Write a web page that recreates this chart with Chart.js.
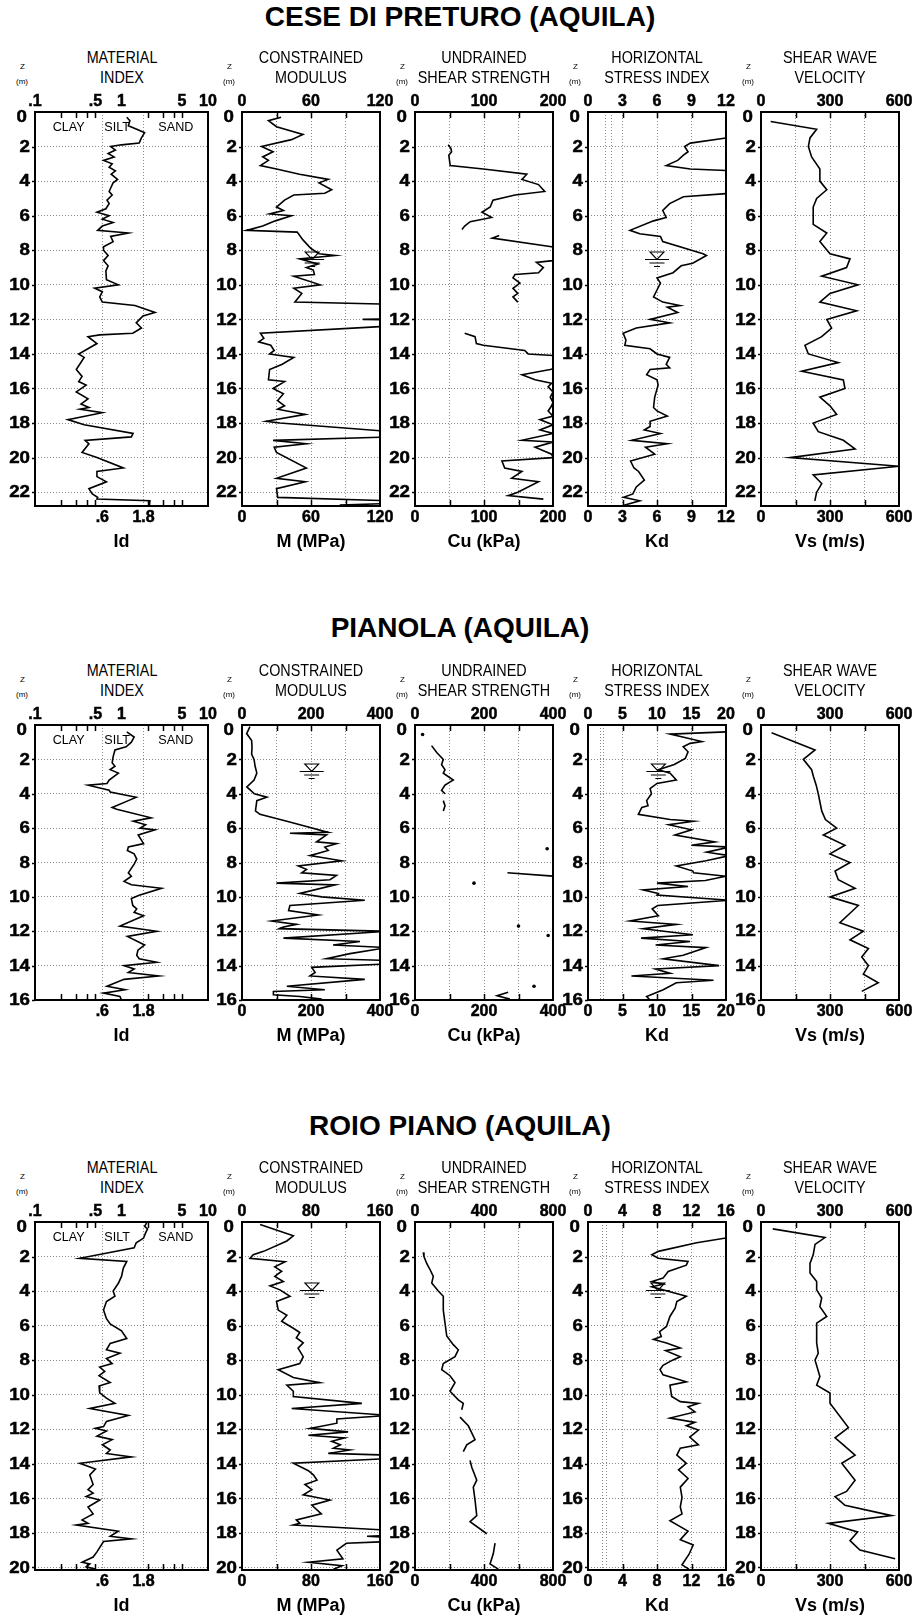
<!DOCTYPE html>
<html><head><meta charset="utf-8">
<script src="https://cdn.jsdelivr.net/npm/chart.js@4.4.1/dist/chart.umd.min.js"></script>
<style>
body{margin:0;background:#fff;width:917px;height:1620px;position:relative;overflow:hidden;font-family:'Liberation Sans',Arial,sans-serif;}
.t{position:absolute;white-space:nowrap;transform:translate(-50%,-50%);color:#000;line-height:1;}
.main{font-weight:bold;font-size:28px;}
.pt{font-size:16.5px;transform:translate(-50%,-50%) scaleX(0.87);}
.z{font-size:8px;}
canvas{position:absolute;}
</style></head><body>
<script>
// ---------------- DATA ----------------
const siteNames = ['CESE DI PRETURO (AQUILA)','PIANOLA (AQUILA)','ROIO PIANO (AQUILA)'];
const panelTitles = [['MATERIAL','INDEX'],['CONSTRAINED','MODULUS'],['UNDRAINED','SHEAR STRENGTH'],['HORIZONTAL','STRESS INDEX'],['SHEAR WAVE','VELOCITY']];
const axisTitles = ['Id','M (MPa)','Cu (kPa)','Kd','Vs (m/s)'];

const depthTicksCese = [0,2,4,6,8,10,12,14,16,18,20,22];
const depthTicksPianola = [0,2,4,6,8,10,12,14,16];
const depthTicksRoio = [0,2,4,6,8,10,12,14,16,18,20];

const idTopTicks = [0.1,0.5,1,5,10];
const idTopLabels = ['.1','.5','1','5','10'];
const idBottomTicks = [0.6,1.8];
const idBottomLabels = ['.6','1.8'];
const idMinorTicks = [0.2,0.3,0.4,0.5,2,3,4,5];
const soilLabels = ['CLAY','SILT','SAND'];
const soilLabelX = [0.245,0.89,4.25];

const mTicksCese = [0,30,60,90,120];      const mLabelsCese = ['0','','60','','120'];
const cuTicksCese = [0,50,100,150,200];   const cuLabelsCese = ['0','','100','','200'];
const kdTicksCese = [0,3,6,9,12];         const kdLabelsCese = ['0','3','6','9','12'];
const kdExtraCese = [1.5,2.0];
const mTicksPianola = [0,100,200,300,400];  const mLabelsPianola = ['0','','200','','400'];
const cuTicksPianola = [0,100,200,300,400]; const cuLabelsPianola = ['0','','200','','400'];
const kdTicksPianola = [0,5,10,15,20];      const kdLabelsPianola = ['0','5','10','15','20'];
const kdExtraPianola = [1.8,2.3];
const mTicksRoio = [0,40,80,120,160];     const mLabelsRoio = ['0','','80','','160'];
const cuTicksRoio = [0,200,400,600,800];  const cuLabelsRoio = ['0','','400','','800'];
const kdTicksRoio = [0,4,8,12,16];        const kdLabelsRoio = ['0','4','8','12','16'];
const kdExtraRoio = [1.7,2.2];
const vsTicks = [0,150,300,450,600];      const vsLabels = ['0','','300','','600'];

// water table: depth, x in M panel, x in Kd panel
const wtDepth = [8.5,2.67,3.93];
const wtM = [61,202,81];
const wtKd = [6,10.2,8.1];

// series: [depth (m), value]
const ceseId = [[0.3,1.15],[0.5,1.25],[0.8,1.2],[1.0,1.5],[1.2,1.85],[1.5,1.7],[1.8,1.6],[1.9,1.0],[2.0,0.75],[2.2,0.85],[2.4,0.7],[2.6,0.82],[2.8,0.62],[3.0,0.78],[3.2,0.72],[3.4,0.85],[3.6,0.76],[3.9,0.9],[4.1,0.8],[4.4,0.75],[4.6,0.72],[4.8,0.78],[5.1,0.68],[5.3,0.72],[5.6,0.66],[5.8,0.52],[6.0,0.72],[6.2,0.6],[6.4,0.8],[6.6,0.6],[6.85,0.53],[7.0,1.2],[7.2,0.75],[7.5,0.8],[7.8,0.62],[8.0,0.62],[8.3,0.7],[8.6,0.62],[8.9,0.7],[9.2,0.66],[9.7,0.67],[10.0,0.92],[10.2,0.49],[10.4,0.6],[10.7,0.56],[11.0,0.6],[11.2,1.43],[11.6,2.44],[11.8,1.77],[12.2,1.48],[12.5,1.7],[12.8,1.35],[12.9,0.56],[13.0,0.41],[13.4,0.52],[14.0,0.32],[14.2,0.37],[14.9,0.3],[15.3,0.35],[15.6,0.32],[15.8,0.39],[16.2,0.3],[16.6,0.41],[16.9,0.34],[17.1,0.42],[17.2,0.33],[17.4,0.6],[17.8,0.24],[18.1,0.37],[18.6,1.36],[18.8,1.3],[19.0,0.38],[19.2,0.42],[19.7,0.35],[20.0,0.52],[20.6,1.05],[20.8,0.52],[21.1,0.52],[21.4,0.67],[21.8,0.42],[22.1,0.46],[22.3,0.53],[22.4,0.52],[22.5,2.13],[22.8,2.1]];
const ceseM = [[0.3,34],[0.5,23],[0.85,30],[1.3,53],[1.6,43],[2.0,17],[2.3,27],[2.6,18],[2.8,23],[3.1,16],[3.3,30],[3.6,50],[3.9,75],[4.1,67],[4.5,78],[4.7,72],[4.8,45],[5.1,37],[5.5,30],[5.7,36],[5.9,24],[6.0,43],[6.3,29],[6.6,18],[6.85,4],[6.95,48],[7.4,53],[7.9,60],[8.2,67],[8.3,81],[8.5,50],[8.8,66],[9.0,56],[9.15,62],[9.4,63],[9.5,45],[10.0,68],[10.2,45],[10.5,52],[11.0,46],[11.15,150],[11.95,150],[12.0,105],[12.05,150],[12.4,125],[12.8,16],[13.1,19],[13.3,14.5],[13.5,25],[13.8,28],[14.0,24],[14.2,45],[14.6,35],[14.9,24],[15.5,23],[15.6,37],[16.0,27],[16.3,36],[16.7,31],[17.0,37],[17.2,31],[17.5,55],[17.9,21],[18.0,33],[18.5,130],[18.8,130],[19.0,27],[19.2,56],[19.4,28],[19.7,30],[20.6,56],[21.2,30],[21.4,55],[21.8,30],[22.3,31],[22.5,130],[22.65,130],[22.75,85]];
const ceseCu = [[1.9,48],[2.1,52],[2.3,53],[2.5,49],[2.8,50],[3.1,51],[3.3,99],[3.6,162],[3.9,155],[4.2,179],[4.6,188],[4.8,145],[5.1,113],[5.5,109],[5.8,97],[6.1,111],[6.35,80],[6.6,72],[6.8,68],[7.0,null],[7.15,122],[7.3,112],[7.8,198],[8.0,215],[8.5,215],[8.6,200],[8.7,176],[9.0,186],[9.3,179],[9.4,145],[9.6,142],[9.9,152],[10.2,142],[10.5,149],[10.7,142],[11.0,149],[12.0,null],[12.8,72],[13.0,87],[13.4,89],[13.5,99],[13.8,159],[14.0,164],[14.1,205],[14.8,205],[14.9,196],[15.2,155],[15.5,174],[15.7,198],[15.9,193],[16.2,200],[16.5,196],[16.8,200],[17.0,198],[17.3,193],[17.6,200],[17.8,181],[18.1,200],[18.4,181],[18.6,200],[19.0,155],[19.1,200],[19.4,174],[19.8,198],[20.0,200],[20.2,126],[20.6,130],[20.8,155],[21.2,140],[21.4,179],[22.0,149],[22.2,135],[22.4,186]];
const ceseKd = [[1.5,12],[1.8,8.9],[2.0,8.4],[2.3,8.7],[2.5,8.3],[2.8,7.8],[3.1,6.8],[3.3,8.9],[3.4,12.5],[4.7,12.5],[4.9,8.3],[5.3,7.1],[5.7,6.5],[6.1,6.8],[6.3,5.7],[6.85,3.65],[7.05,4.5],[7.2,6.3],[7.5,6.5],[8.2,10],[8.3,10.3],[8.75,9.1],[8.9,8.1],[9.3,7.4],[9.6,6.0],[9.9,6.3],[10.3,6.0],[10.7,5.7],[11.0,6.5],[11.2,8.0],[11.3,6.9],[11.6,7.8],[12.0,5.4],[12.2,7.1],[12.5,4.2],[12.8,3.06],[13.2,3.3],[13.5,3.2],[13.7,5.4],[14.0,6.0],[14.2,7.1],[14.6,6.8],[14.8,7.1],[14.9,5.4],[15.2,5.1],[15.5,6.0],[15.8,6.1],[16.5,5.8],[17.1,5.7],[17.3,6.0],[17.6,6.9],[17.9,5.4],[18.2,5.4],[18.4,4.9],[18.6,6.3],[19.0,3.8],[19.2,6.9],[19.4,5.0],[19.8,5.8],[20.2,3.7],[20.6,4.0],[20.8,4.4],[21.3,4.9],[21.7,4.2],[22.1,3.9],[22.3,3.1],[22.5,4.5],[22.8,2.9]];
const ceseVs = [[0.55,42],[1.0,242],[1.5,213],[2.0,206],[2.6,220],[3.3,256],[4.0,256],[4.5,286],[5.0,242],[5.5,227],[6.0,227],[6.5,227],[7.0,286],[7.5,256],[8.2,300],[8.5,387],[9.0,372],[9.5,264],[10.0,422],[10.5,300],[11.0,256],[11.5,416],[12.0,286],[12.5,307],[13.0,264],[13.5,191],[14.0,206],[14.5,336],[15.0,177],[15.5,358],[16.0,365],[16.5,256],[17.0,300],[17.5,329],[18.0,227],[18.5,249],[19.0,358],[19.5,409],[20.0,126],[20.5,600],[21.0,227],[21.5,264],[22.0,242],[22.5,234]];

const pianolaId = [[0.4,1.15],[0.7,1.4],[1.0,1.3],[1.27,1.13],[1.45,0.84],[1.85,0.8],[2.2,0.78],[2.4,0.84],[2.6,0.74],[2.8,0.92],[3.2,0.72],[3.4,0.68],[3.5,0.41],[3.8,0.72],[3.9,0.74],[4.2,1.48],[4.4,1.2],[4.8,0.78],[4.9,0.88],[5.4,2.2],[5.6,1.37],[5.8,1.9],[6.0,1.64],[6.1,2.44],[6.4,1.56],[6.9,1.8],[7.1,1.2],[7.3,1.17],[7.5,1.4],[7.8,1.5],[8.1,1.4],[8.6,1.2],[8.8,1.3],[9.1,1.07],[9.3,1.3],[9.5,2.9],[9.9,1.6],[10.1,1.3],[10.5,1.35],[10.7,1.5],[10.9,1.4],[11.1,1.8],[11.7,0.96],[12.0,2.55],[12.3,1.17],[12.8,1.85],[13.1,1.55],[13.4,1.5],[13.6,1.6],[13.8,2.55],[14.0,1.07],[14.2,1.4],[14.4,1.2],[14.6,2.7],[14.8,1.07],[15.2,0.68],[15.4,1.1],[15.6,0.62],[15.8,0.96],[16.0,1.0]];
const pianolaM = [[0.1,23],[0.5,13.5],[0.9,28],[1.3,29],[1.7,28],[2.0,35],[2.4,38],[2.8,43],[3.2,35],[3.6,14],[4.0,36],[4.2,72],[4.4,43],[5.0,39],[5.2,52],[5.6,130],[5.8,168],[6.25,250],[6.3,139],[6.4,245],[6.8,216],[6.9,274],[7.1,240],[7.3,250],[7.6,197],[7.9,289],[8.2,163],[8.4,187],[8.6,173],[8.75,274],[9.0,255],[9.2,100],[9.3,270],[9.8,168],[10.0,231],[10.2,356],[10.5,139],[10.8,135],[11.05,221],[11.4,86],[11.6,158],[11.75,120],[11.85,108],[12.0,420],[12.4,120],[12.6,342],[12.8,264],[12.95,420],[13.3,313],[13.6,245],[13.7,420],[13.9,420],[14.1,202],[14.4,212],[14.6,197],[14.8,356],[15.2,130],[15.4,240],[15.5,91],[15.7,91],[15.8,168],[15.95,231]];
const pianolaCu = [[0.55,22],[0.9,null],[1.2,48],[1.6,63],[2.0,82],[2.3,77],[2.6,87],[2.8,82],[3.2,111],[3.5,87],[3.8,77],[4.0,87],[4.2,null],[4.4,82],[4.7,87],[5.0,82],[6.0,null],[7.2,383],[8.0,null],[8.6,268],[8.8,405],[9.0,null],[9.2,171],[10.0,null],[11.7,300],[12.0,null],[12.25,386],[13.0,null],[15.2,345],[15.4,null],[15.55,270],[15.75,238],[15.95,275]];
const pianolaKd = [[0.4,20],[0.53,11.9],[0.96,16.5],[1.07,14.8],[1.27,13.8],[1.56,14.5],[1.95,14.1],[2.3,12.5],[2.6,10.2],[2.8,11.9],[3.2,12.8],[3.4,10.0],[3.7,9.0],[4.0,9.2],[4.4,8.5],[4.7,8.7],[4.8,7.8],[5.2,7.3],[5.5,11.9],[5.6,15.3],[5.8,11.7],[6.1,15],[6.4,12.6],[6.8,18.4],[7.0,15],[7.1,20.5],[7.4,17.2],[7.6,20.5],[7.9,17.1],[8.2,12.8],[8.5,15.2],[8.6,15.3],[8.8,20],[9.05,17],[9.2,10],[9.4,14.5],[9.6,8.0],[9.8,10.2],[9.9,10],[10.2,20.5],[10.5,10.1],[10.7,9.3],[11.1,10.2],[11.4,6.1],[11.6,12.8],[11.85,8.0],[12.2,15.2],[12.4,7.7],[12.6,14.8],[12.8,9.8],[12.95,17.1],[13.4,13.8],[13.6,10.9],[14.0,19],[14.2,9.8],[14.45,11.9],[14.6,6.3],[14.85,18.2],[15.0,12.8],[15.4,10.9],[15.8,8.5],[16.0,9]];
const pianolaVs = [[0.45,46],[1.45,235],[2.0,184],[2.6,220],[3.0,228],[3.5,240],[4.0,249],[5.0,264],[5.5,280],[6.0,329],[6.4,271],[7.0,365],[7.5,300],[8.0,387],[8.5,322],[9.0,336],[9.5,409],[10.0,300],[10.5,423],[11.5,343],[12.0,445],[12.5,387],[13.0,467],[13.5,438],[14.0,467],[14.5,445],[15.0,510],[15.5,438]];

const roioId = [[0.06,1.95],[0.25,1.85],[0.4,2.0],[0.63,1.9],[0.93,1.8],[1.2,1.48],[1.5,1.4],[2.1,0.33],[2.28,1.15],[2.67,1.05],[3.15,1.0],[3.55,0.92],[4.0,0.8],[4.3,0.84],[4.6,0.67],[5.1,0.62],[5.6,0.67],[5.9,0.74],[6.3,1.0],[6.75,1.15],[7.03,0.74],[7.4,0.67],[7.6,0.96],[7.9,0.67],[8.2,0.78],[8.4,0.56],[8.65,0.64],[8.9,0.55],[9.3,0.74],[9.5,0.55],[9.9,0.56],[10.2,0.67],[10.5,0.84],[10.8,0.43],[11.2,1.2],[11.55,0.67],[11.85,0.62],[11.95,0.5],[12.1,0.67],[12.4,0.52],[12.6,0.78],[12.9,0.6],[13.2,0.74],[13.4,0.67],[13.6,1.3],[13.97,0.33],[14.3,0.5],[14.65,0.43],[15.2,0.47],[15.5,0.41],[15.7,0.47],[15.9,0.39],[16.1,0.56],[16.5,0.41],[16.9,0.47],[17.25,0.35],[17.45,0.41],[17.55,0.3],[17.9,0.92],[18.2,0.74],[18.35,1.3],[18.5,0.62],[19.1,0.52],[19.4,0.47],[19.7,0.35],[19.8,0.43],[19.97,0.39],[20.1,0.5]];
const roioM = [[0.15,21],[0.8,59.5],[1.1,52],[1.7,25],[1.9,13],[2.1,9.3],[2.3,50],[2.6,38],[2.85,46],[3.15,38],[3.45,48],[3.7,32.5],[3.93,44],[4.3,55.7],[4.6,40],[5.1,42],[5.4,52],[5.75,46],[6.15,59.5],[6.4,67],[6.7,63],[7.0,71],[7.3,65],[7.8,71],[8.2,67],[8.55,42],[9.0,59.5],[9.3,90],[9.45,52],[9.8,59.5],[10.1,59.5],[10.5,139],[10.8,57.6],[11.2,170],[11.4,110],[11.65,110],[11.95,79],[12.15,123],[12.35,77],[12.5,119],[12.7,104],[12.9,114],[13.1,106],[13.2,125],[13.4,100],[13.5,170],[13.7,170],[13.97,59.5],[14.4,77],[14.65,83],[14.95,87],[15.2,73],[15.5,81],[15.8,71],[16.1,102],[16.4,81],[16.9,92],[17.25,63],[17.45,67],[17.55,59.5],[17.85,170],[18.15,170],[18.2,145],[18.25,170],[18.5,170],[18.6,121],[19.0,110],[19.5,117],[19.7,77],[19.9,116],[20.1,106]];
const roioCu = [[1.76,48],[2.0,52],[2.4,68],[2.75,87],[3.15,106],[3.53,97],[4.0,135],[4.3,164],[5.1,164],[5.85,174],[6.6,184],[7.1,222],[7.4,251],[7.8,232],[8.2,164],[8.55,155],[8.9,203],[9.3,232],[9.8,203],[10.3,251],[10.5,280],[10.87,271],[11.1,null],[11.3,261],[11.8,309],[12.6,348],[12.9,300],[13.3,280],[13.55,null],[13.8,319],[14.2,329],[14.95,358],[15.35,338],[16.1,348],[17.0,358],[17.35,319],[18.05,416],[18.3,null],[18.6,464],[19.2,454],[19.8,435],[20.1,483]];
const roioKd = [[0.93,16],[1.2,12.6],[1.7,8.15],[1.9,7.4],[2.1,8.15],[2.28,11.6],[2.5,11.4],[2.86,9.3],[3.25,8.7],[3.45,7.4],[3.6,8.7],[3.75,7.4],[4.3,11.4],[4.6,10.3],[4.99,10.1],[5.47,9.5],[6.05,9.1],[6.35,8.3],[6.63,8.5],[6.8,7.6],[7.0,9.1],[7.3,10.7],[7.45,9.0],[7.8,10.7],[8.0,9.8],[8.3,8.7],[8.55,8.35],[8.85,8.7],[9.25,11.4],[9.45,9.5],[10.1,9.7],[10.4,10.7],[10.5,12.8],[10.7,11.6],[11.0,12.4],[11.35,9.5],[11.6,12.4],[11.8,11.4],[12.05,12.8],[12.45,11.8],[12.9,12.8],[13.1,10.7],[13.5,10.3],[13.97,11.4],[14.35,10.5],[14.85,11.6],[15.35,10.7],[15.95,10.9],[16.5,10.7],[16.9,10.9],[17.3,9.5],[17.9,11.6],[18.4,10.7],[18.7,12.2],[19.25,11.7],[19.85,10.9],[20.1,11.7]];
const roioVs = [[0.4,51],[0.9,278],[1.3,235],[1.9,227],[2.4,213],[2.95,213],[3.45,242],[3.93,242],[4.4,264],[4.9,256],[5.47,286],[5.86,242],[6.4,242],[7.0,242],[7.6,249],[8.0,235],[8.95,256],[9.45,242],[9.9,300],[10.5,300],[11.9,380],[12.5,322],[12.9,358],[13.5,409],[13.97,351],[14.95,409],[15.6,372],[15.9,322],[16.4,365],[17.0,568],[17.45,293],[17.95,420],[18.45,387],[19.0,430],[19.5,583]];

// ---------------- LAYOUT / STYLE ----------------
const COLS = [[35,208],[242,380],[415,553],[588,726],[761,899]];
const SANS = "'Liberation Sans',Arial,sans-serif";
const XTICK_FONT = 'bold 16px ' + SANS;
const YTICK_FONT = 'bold 17px ' + SANS;
const TITLE_FONT = {family: SANS, size: 18, weight: 'bold'};
const GRID = '#8a8a8a';

const rows = [
  {top:112, bottom:506, max:22.8, titleY:17, depthTicks:depthTicksCese,
   series:[ceseId,ceseM,ceseCu,ceseKd,ceseVs],
   axes:[[mTicksCese,mLabelsCese],[cuTicksCese,cuLabelsCese],[kdTicksCese,kdLabelsCese],[vsTicks,vsLabels]], kdExtra:kdExtraCese},
  {top:725, bottom:1000, max:16, titleY:628, depthTicks:depthTicksPianola,
   series:[pianolaId,pianolaM,pianolaCu,pianolaKd,pianolaVs],
   axes:[[mTicksPianola,mLabelsPianola],[cuTicksPianola,cuLabelsPianola],[kdTicksPianola,kdLabelsPianola],[vsTicks,vsLabels]], kdExtra:kdExtraPianola},
  {top:1222, bottom:1570, max:20.15, titleY:1126, depthTicks:depthTicksRoio,
   series:[roioId,roioM,roioCu,roioKd,roioVs],
   axes:[[mTicksRoio,mLabelsRoio],[cuTicksRoio,cuLabelsRoio],[kdTicksRoio,kdLabelsRoio],[vsTicks,vsLabels]], kdExtra:kdExtraRoio}
];

function addText(txt, x, y, cls) {
  const d = document.createElement('div');
  d.className = 't ' + cls; d.textContent = txt;
  d.style.left = x + 'px'; d.style.top = y + 'px';
  document.body.appendChild(d);
}

function isolatedRadius(c) {
  const d = c.dataset.data, i = c.dataIndex;
  if (!d[i] || d[i].x == null) return 0;
  const pn = i === 0 || d[i-1].x == null;
  const nn = i === d.length - 1 || d[i+1].x == null;
  return (pn && nn) ? 1.8 : 0;
}

function label(ctx, text, x, y, align, sx, heavy) {
  ctx.save();
  ctx.translate(x, y);
  ctx.scale(sx, 1);
  ctx.textAlign = align;
  ctx.fillText(text, 0, 0);
  if (heavy) { ctx.lineWidth = heavy; ctx.strokeStyle = '#000'; ctx.strokeText(text, 0, 0); }
  ctx.restore();
}

const deco = {
  id: 'deco',
  afterDatasetsDraw(chart, args, o) {
    const {ctx, chartArea: a, scales} = chart;
    const xs = scales.x, ys = scales.y;
    ctx.save();
    ctx.strokeStyle = '#000';
    ctx.lineWidth = 1.5;
    const marks = o.marks || [];
    for (let k = 0; k < marks.length; k++) {
      const px = Math.round(xs.getPixelForValue(marks[k])) + 0.5;
      ctx.beginPath();
      ctx.moveTo(px, a.top); ctx.lineTo(px, a.top + 6);
      ctx.moveTo(px, a.bottom); ctx.lineTo(px, a.bottom - 6);
      ctx.stroke();
    }
    ys.ticks.forEach(t => {
      if (t.value === 0) return;
      const p = Math.round(ys.getPixelForValue(t.value)) + 0.5;
      ctx.beginPath(); ctx.moveTo(a.left - 3, p); ctx.lineTo(a.left, p); ctx.stroke();
    });
    if (o.wt) {
      const cx = xs.getPixelForValue(o.wt[0]), cy = Math.round(ys.getPixelForValue(o.wt[1])) + 0.5;
      ctx.lineWidth = 1.1;
      ctx.beginPath();
      ctx.moveTo(cx - 7, cy - 7.5); ctx.lineTo(cx + 7, cy - 7.5); ctx.lineTo(cx, cy); ctx.closePath();
      ctx.stroke();
      ctx.beginPath();
      ctx.moveTo(cx - 12, cy); ctx.lineTo(cx + 12, cy);
      ctx.moveTo(cx - 7.5, cy + 3.5); ctx.lineTo(cx + 7.5, cy + 3.5);
      ctx.moveTo(cx - 3, cy + 7); ctx.lineTo(cx + 3, cy + 7);
      ctx.stroke();
    }
    ctx.fillStyle = '#000';
    ctx.textBaseline = 'middle';
    if (o.soil) {
      ctx.font = '13px ' + SANS;
      for (let k = 0; k < soilLabels.length; k++) {
        label(ctx, soilLabels[k], xs.getPixelForValue(soilLabelX[k]), a.top + 15, 'center', 0.97, 0);
      }
    }
    ctx.lineWidth = 2;
    ctx.strokeRect(a.left, a.top, a.right - a.left, a.bottom - a.top);
    // tick labels taken from the chart's own scales
    const each = (scale, fn) => scale.ticks.forEach(t => {
      if (t.label !== '' && t.label != null) fn(String(t.label), scale.getPixelForValue(t.value), t.value);
    });
    ctx.font = XTICK_FONT;
    each(scales.x, (l, p) => label(ctx, l, p, a.bottom + 12, 'center', 1.0, 0.5));
    each(scales.x2, (l, p) => label(ctx, l, p, a.top - 10, 'center', 1.0, 0.5));
    ctx.font = YTICK_FONT;
    each(ys, (l, p, v) => v === 0
      ? label(ctx, l, a.left - 8, p + 5, 'right', 1.1, 0.5)
      : label(ctx, l, a.left - 5, p + 0.5, 'right', 1.1, 0.5));
    ctx.restore();
  }
};

function buildPanel(row, ri, ci) {
  const [pl, pr] = COLS[ci];
  const pt = row.top, pb = row.bottom;
  const L = 42, T = 24, B = 48, R = 18;
  const w = pr - pl + L + R, h = pb - pt + T + B;
  const cv = document.createElement('canvas');
  cv.width = w; cv.height = h;
  cv.style.left = (pl - L) + 'px'; cv.style.top = (pt - T) + 'px';
  cv.style.width = w + 'px'; cv.style.height = h + 'px';
  document.body.appendChild(cv);

  let type, min, max, topT, topL, botT, botL, grid, marks;
  if (ci === 0) {
    type = 'logarithmic'; min = 0.1; max = 10;
    topT = idTopTicks; topL = idTopLabels; botT = idBottomTicks; botL = idBottomLabels;
    grid = idBottomTicks; marks = idMinorTicks;
  } else {
    const tk = row.axes[ci-1][0], lb = row.axes[ci-1][1];
    type = 'linear'; min = tk[0]; max = tk[tk.length-1];
    topT = tk; topL = lb;
    const extra = ci === 3 ? row.kdExtra : [];
    botT = tk.concat(extra).sort((a,b) => a - b);
    botL = botT.map(v => { const i = tk.indexOf(v); return i >= 0 ? lb[i] : ''; });
    grid = tk.slice(1, -1).concat(extra);
    marks = tk.slice(1, -1);
  }
  const topMap = new Map(topT.map((v,i) => [v, topL[i]]));
  const botMap = new Map(botT.map((v,i) => [v, botL[i]]));
  const data = row.series[ci].map(p => ({x: p[1], y: p[0]}));
  let wt = null;
  if (ci === 1) wt = [wtM[ri], wtDepth[ri]];
  if (ci === 3) wt = [wtKd[ri], wtDepth[ri]];

  new Chart(cv, {
    type: 'line',
    data: {datasets: [{data, borderColor:'#000', borderWidth:1.6, tension:0, fill:false, spanGaps:false,
      pointRadius: isolatedRadius, pointHoverRadius:0, pointBackgroundColor:'#000', pointBorderWidth:0}]},
    options: {
      responsive:false, maintainAspectRatio:false, animation:false, devicePixelRatio:1, events:[],
      layout:{padding:{left:0, top:0, right:R, bottom:0}},
      plugins:{legend:{display:false}, tooltip:{enabled:false}, deco:{marks, wt, soil: ci === 0}},
      scales:{
        x:{type, position:'bottom', min, max,
          afterFit(s){ s.height = B; },
          afterBuildTicks(s){ s.ticks = botT.map(v => ({value:v})); },
          ticks:{display:false, autoSkip:false, maxRotation:0, minRotation:0, callback: v => botMap.has(v) ? botMap.get(v) : ''},
          grid:{drawTicks:false, lineWidth:1, color: c => (c.tick && grid.includes(c.tick.value)) ? GRID : 'rgba(0,0,0,0)'},
          border:{display:false, dash:[1,2]},
          title:{display:true, text:axisTitles[ci], color:'#000', font:TITLE_FONT, padding:{top:0, bottom:1}}},
        x2:{type, position:'top', min, max,
          afterFit(s){ s.height = T; },
          afterBuildTicks(s){ s.ticks = topT.map(v => ({value:v})); },
          ticks:{display:false, autoSkip:false, maxRotation:0, minRotation:0, callback: v => topMap.has(v) ? topMap.get(v) : ''},
          grid:{drawOnChartArea:false, drawTicks:false}, border:{display:false}},
        y:{type:'linear', position:'left', reverse:true, min:0, max:row.max,
          afterFit(s){ s.width = L; },
          afterBuildTicks(s){ s.ticks = row.depthTicks.map(v => ({value:v})); },
          ticks:{display:false, autoSkip:false, callback: v => String(v)},
          grid:{color:GRID, lineWidth:1, drawTicks:false},
          border:{display:false, dash:[1,2]}}
      }
    },
    plugins:[deco]
  });

  const cx = (pl + pr) / 2;
  addText(panelTitles[ci][0], cx, pt - 55.5, 'pt');
  addText(panelTitles[ci][1], cx, pt - 35.5, 'pt');
  addText('Z', pl - 12.5, pt - 45, 'z');
  addText('(m)', pl - 13, pt - 30.5, 'z');
}

rows.forEach((row, ri) => {
  addText(siteNames[ri], 460, row.titleY, 'main');
  for (let ci = 0; ci < 5; ci++) buildPanel(row, ri, ci);
});
</script>
</body></html>
